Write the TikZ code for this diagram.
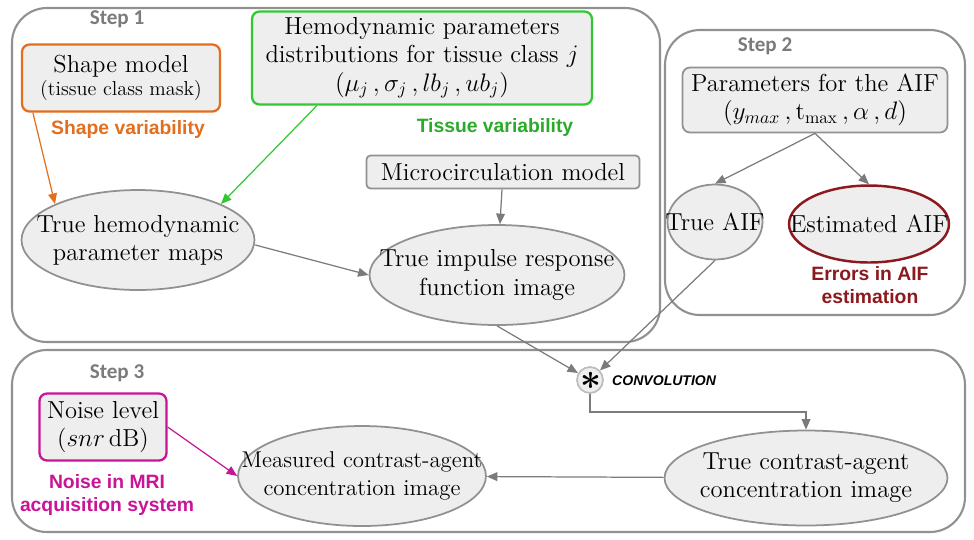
\documentclass[tikz,border=0pt]{standalone}
\usepackage{fontspec}
\usepackage{amsmath}
\newfontfamily\stepfont{Carlito}
\newfontfamily\notefont{Liberation Sans}
\usepackage{tikz}
\usetikzlibrary{shapes}
\usetikzlibrary{arrows.meta}
\usepackage{xcolor}
\definecolor{framegray}{RGB}{145,145,145}
\definecolor{boxfill}{RGB}{238,238,238}
\definecolor{shapeorange}{RGB}{226,110,30}
\definecolor{tissuegreen}{RGB}{50,200,50}
\definecolor{aifred}{RGB}{140,25,30}
\definecolor{noisemagenta}{RGB}{200,20,150}

\tikzset{
  frame/.style={draw=framegray, line width=1.2pt, rounded corners=0.7cm},
  steplabel/.style={font=\stepfont\bfseries\fontsize{12}{12}\selectfont, text=framegray!85!black},
  box/.style={draw=framegray, fill=boxfill, line width=1pt, rounded corners=0.15cm,
    align=center, inner sep=2pt, font=\fontsize{14}{16}\selectfont},
  oval/.style={ellipse, draw=framegray, fill=boxfill, line width=1pt,
    align=center, inner xsep=-26pt, inner ysep=0pt, font=\fontsize{14}{16}\selectfont},
  note/.style={font=\notefont\bfseries\fontsize{11}{13}\selectfont, align=center},
  link/.style={draw=framegray!85!black, line width=0.7pt, -{Triangle[width=5pt,length=6pt]}},
}

\begin{document}
\begin{tikzpicture}[x=0.02cm, y=-0.02cm]
\useasboundingbox (0,0) rectangle (974,539);

% the three steps
\draw[frame] (12,8) rectangle (660,342);
\draw[frame] (665,30) rectangle (965,315);
\draw[frame] (12,350) rectangle (965,532);
\node[steplabel] (s1) at (117,19) {Step 1};
\node[steplabel] (s2) at (765,46) {Step 2};
\node[steplabel] (s3) at (117,373) {Step 3};

% step 1
\node[box, draw=shapeorange, line width=1.3pt, minimum width=3.96cm, minimum height=1.34cm] (shape) at (121,78)
  {Shape model\\[-3pt]{\fontsize{11.5}{13}\selectfont(tissue class mask)}};
\node[note, text=shapeorange] (shapevar) at (128,129) {Shape variability};
\node[box, draw=tissuegreen, line width=1.3pt, minimum width=6.8cm, minimum height=1.86cm] (hemo) at (422,58)
  {Hemodynamic parameters\\distributions for tissue class $j$\\$(\mu_j\,,\sigma_j\,,lb_j\,,ub_j)$};
\node[note, text=tissuegreen!85!black] (tissuevar) at (495,127) {Tissue variability};
\node[box, minimum width=5.46cm, minimum height=0.66cm, rounded corners=0.08cm] (micro) at (503,172) {Microcirculation model};
\node[oval, minimum width=4.66cm, minimum height=2cm] (maps) at (138,240) {True hemodynamic\\parameter maps};
\node[oval, minimum width=5.1cm, minimum height=2cm] (irf) at (497,275) {True impulse response\\function image};

\draw[link, draw=shapeorange] ([xshift=0.24cm]shape.south west) -- (maps.north west);
\draw[link, draw=tissuegreen] ([xshift=1.32cm]hemo.south west) -- (maps.north east);
\draw[link] (micro) -- (irf);
\draw[link] ([yshift=-0.1cm]maps.east) -- (irf.west);

% step 2
\node[box, minimum width=5.3cm, minimum height=1.3cm] (aifpar) at (815,100)
  {Parameters for the AIF\\$(y_{max}\,,\mathrm{t}_{\max}\,,\alpha\,,d)$};
\node[oval, minimum width=1.9cm, minimum height=1.5cm] (aif) at (715,222) {True AIF};
\node[oval, draw=aifred, line width=1.4pt, minimum width=3.2cm, minimum height=1.54cm] (estaif) at (869,224) {Estimated AIF};
\node[note, text=aifred] (aiferr) at (870,285) {Errors in AIF\\estimation};
\draw[link] (aifpar.south) -- (aif.north);
\draw[link] (aifpar.south) -- (estaif.north);

% convolution
\node[circle, draw=framegray!60, fill=boxfill, line width=1pt, minimum size=0.52cm, inner sep=0pt] (conv) at (590,380) {};
\node[font=\fontsize{21}{21}\selectfont, inner sep=0pt] (star) at ([xshift=0.01cm,yshift=-0.02cm]conv.center) {$\boldsymbol{\ast}$};
\node[anchor=west, font=\notefont\bfseries\itshape\fontsize{8}{8}\selectfont] (convlab) at (606,381) {CONVOLUTION};
\draw[link] (irf.south) -- (conv);
\draw[link] (aif.south) -- (conv);

% step 3
\node[box, draw=noisemagenta, line width=1.3pt, minimum width=2.54cm, minimum height=1.34cm] (noise) at (103,427)
  {Noise level\\($snr$\,dB)};
\node[note, text=noisemagenta] (noiselab) at (107,495) {Noise in MRI\\acquisition system};
\node[oval, minimum width=4.96cm, minimum height=2cm, font=\fontsize{13}{15.5}\selectfont] (meas) at (362,476) {Measured contrast-agent\\concentration image};
\node[oval, minimum width=5.66cm, minimum height=1.9cm] (truec) at (806,478) {True contrast-agent\\concentration image};
\draw[link] (conv.south) |- (600,412) -| (truec.north);
\draw[link] (truec) -- (meas);
\draw[link, draw=noisemagenta] (noise.east) -- (meas.west);
\end{tikzpicture}
\end{document}
